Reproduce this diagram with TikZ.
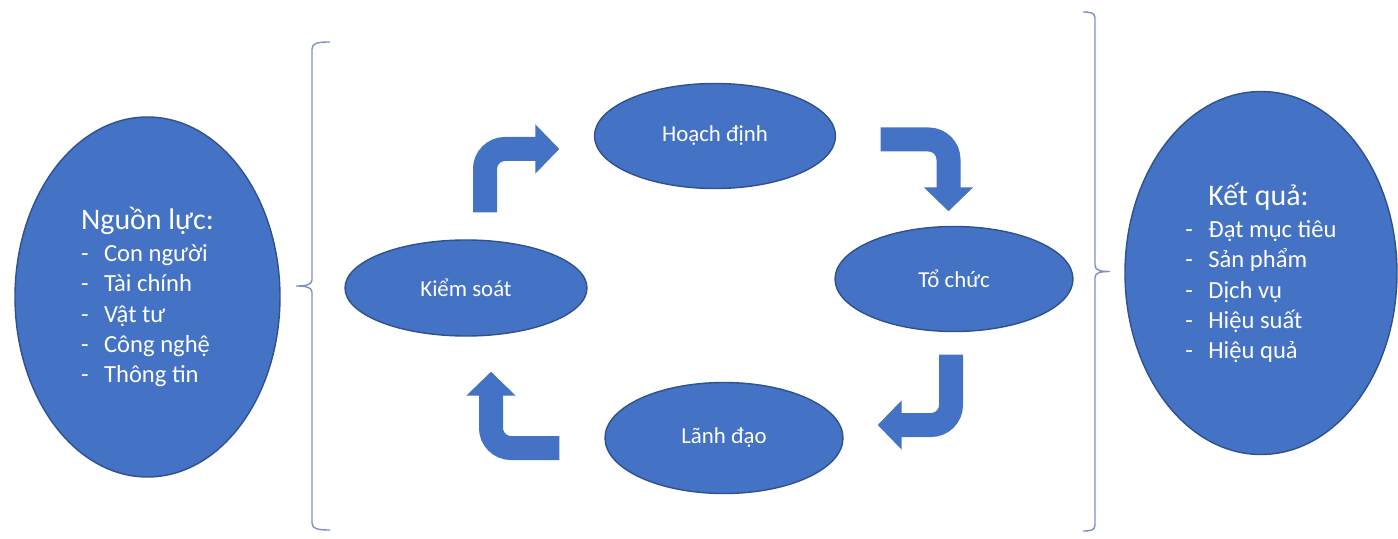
\documentclass[tikz,border=0pt]{standalone}
\usepackage{fontspec}
\setmainfont{Carlito}
\usepackage{tikz}
\usepackage{xcolor}
\usetikzlibrary{arrows.meta, positioning, shapes, calc}

\definecolor{blockblue}{RGB}{68,114,196}
\definecolor{edgeblue}{RGB}{47,82,143}
\definecolor{bracegray}{RGB}{125,145,200}

\newcommand{\gach}[1]{\makebox[0.46cm][l]{-}#1}

\begin{document}
\begin{tikzpicture}[
    every node/.style={align=left},
    stage/.style={ellipse, draw=edgeblue, line width=0.8pt, fill=blockblue, inner sep=0pt, text=white, font=\fontsize{13}{15}\selectfont},
    side/.style={ellipse, draw=edgeblue, line width=0.8pt, fill=blockblue, inner sep=0pt, text=white, font=\fontsize{14}{17.2}\selectfont},
    flow/.style={-{Triangle[width=0.96cm, length=0.48cm]}, line width=0.48cm, blockblue, rounded corners=0.4cm},
    bracket/.style={bracegray, line width=0.8pt}
]
\useasboundingbox (0,0) rectangle (27.96,10.76);

% Cac khau quan tri
\node[stage, minimum width=4.84cm, minimum height=1.92cm] (ks) at (9.32, 5.00) {Kiểm soát};
\node[stage, minimum width=4.82cm, minimum height=2.10cm] (hd) at (14.30, 8.04) {Hoạch định};
\node[stage, minimum width=4.76cm, minimum height=2.10cm] (tc) at (19.08, 5.18) {Tổ chức};
\node[stage, minimum width=4.76cm, minimum height=2.22cm] (ld) at (14.48, 2.00) {Lãnh đạo};

% Dau vao va dau ra
\node[side, minimum width=5.30cm, minimum height=7.20cm] (nl) at (2.95, 4.82)
    {{\fontsize{17}{20}\selectfont Nguồn lực:}\\[1pt]
     \gach{Con người}\\ \gach{Tài chính}\\ \gach{Vật tư}\\ \gach{Công nghệ}\\ \gach{Thông tin}};
\node[side, minimum width=5.44cm, minimum height=7.26cm] (kq) at (25.22, 5.30)
    {\hspace*{0.46cm}{\fontsize{17}{20}\selectfont Kết quả:}\\[1pt]
     \gach{Đạt mục tiêu}\\ \gach{Sản phẩm}\\ \gach{Dịch vụ}\\ \gach{Hiệu suất}\\ \gach{Hiệu quả}};

% Mui ten vong
\draw[flow] ($(ks.north)+(0.38,0.54)$) |- ($(hd.west)+(-0.69,-0.26)$);
\draw[flow] ($(hd.east)+(0.89,-0.07)$) -| ($(tc.north)+(-0.11,0.29)$);
\draw[flow] ($(tc.south)+(-0.06,-0.45)$) |- ($(ld.east)+(0.68,0.26)$);
\draw[flow] ($(ld.west)+(-0.90,-0.20)$) -| ($(ks.south)+(0.50,-0.70)$);

% Ngoac
\draw[bracket] (6.60,9.92) .. controls (6.36,9.92) and (6.24,9.90) .. (6.24,9.78) -- (6.24,5.16)
    .. controls (6.24,5.06) and (6.10,5.04) .. (5.92,5.04)
    .. controls (6.10,5.04) and (6.24,5.02) .. (6.24,4.92) -- (6.24,0.30)
    .. controls (6.24,0.18) and (6.36,0.16) .. (6.60,0.16);
\draw[bracket] (21.66,10.52) .. controls (21.82,10.52) and (21.90,10.50) .. (21.90,10.40) -- (21.90,5.45)
    .. controls (21.90,5.35) and (22.02,5.33) .. (22.20,5.33)
    .. controls (22.02,5.33) and (21.90,5.31) .. (21.90,5.21) -- (21.90,0.26)
    .. controls (21.90,0.16) and (21.82,0.14) .. (21.66,0.14);

\end{tikzpicture}
\end{document}
